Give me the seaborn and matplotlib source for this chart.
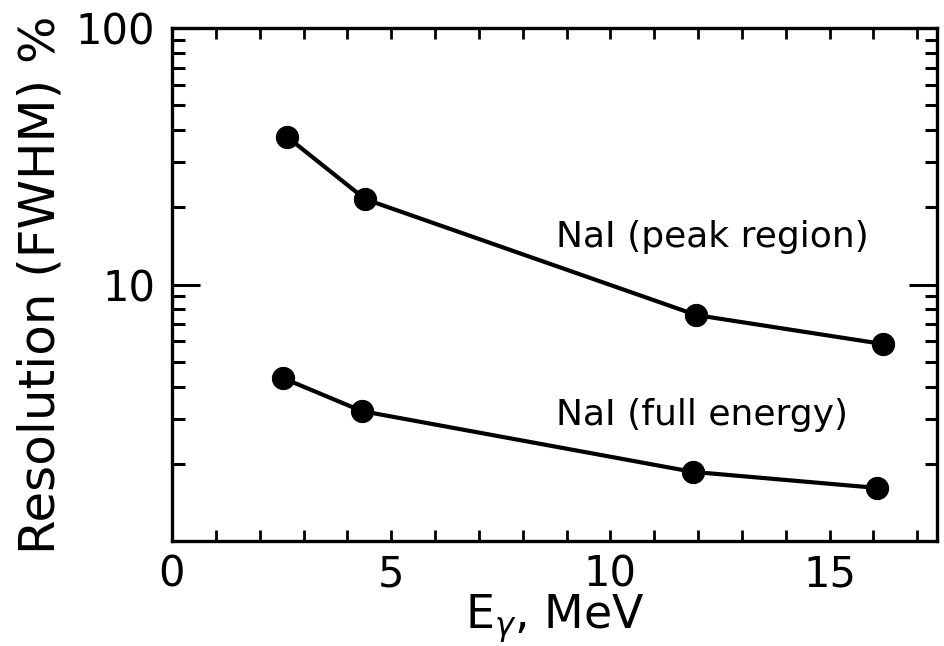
import numpy as np
import pandas as pd
import matplotlib
matplotlib.use("Agg")
import matplotlib.pyplot as plt
import matplotlib.ticker as mticker
import seaborn as sns

# Gamma energies (MeV) and NaI resolutions (FWHM, %)
energy_peak = [2.62, 4.41, 11.96, 16.22]
res_peak = [37.7, 21.5, 7.6, 5.86]
energy_full = [2.54, 4.33, 11.88, 16.09]
res_full = [4.31, 3.21, 1.86, 1.61]

series_names = ["NaI (peak region)", "NaI (full energy)"]
x_ticks = [0, 5, 10, 15]
x_tick_labels = ["0", "5", "10", "15"]
y_ticks = [10, 100]
y_tick_labels = ["10", "100"]

df = pd.concat([
    pd.DataFrame({"E": energy_peak, "R": res_peak, "series": series_names[0]}),
    pd.DataFrame({"E": energy_full, "R": res_full, "series": series_names[1]}),
])

sns.set_style("ticks")
plt.rcParams["font.family"] = ["DejaVu Sans"]
plt.rcParams["text.color"] = "black"
plt.rcParams["axes.labelcolor"] = "black"
plt.rcParams["xtick.color"] = "black"
plt.rcParams["ytick.color"] = "black"

fig = plt.figure(figsize=(9.45, 6.46), dpi=100)
ax = fig.add_axes([172 / 945, 1 - 541 / 646, (937 - 172) / 945, (541 - 28) / 646])

sns.lineplot(data=df, x="E", y="R", units="series", estimator=None,
             color="black", lw=3.0, marker="o", markersize=16,
             markeredgecolor="black", markerfacecolor="black",
             legend=False, ax=ax, sort=False)

ax.set_yscale("log")
ax.set_xlim(0, 17.45)
ax.set_ylim(1, 100)

ax.set_xticks(x_ticks)
ax.set_xticklabels(x_tick_labels)
ax.xaxis.set_minor_locator(mticker.MultipleLocator(1))
ax.set_yticks(y_ticks)
ax.set_yticklabels(y_tick_labels)
ax.yaxis.set_minor_locator(mticker.LogLocator(base=10, subs=np.arange(2, 10)))
ax.yaxis.set_minor_formatter(mticker.NullFormatter())

ax.tick_params(axis="x", which="both", direction="in", top=True, bottom=True,
               length=8, width=2, labelsize=30, pad=9)
ax.tick_params(axis="y", which="major", direction="in", left=True, right=True,
               length=20, width=2.2, labelsize=30, pad=12)
ax.tick_params(axis="y", which="minor", direction="in", left=True, right=True,
               length=9, width=2.2)

for sp in ax.spines.values():
    sp.set_linewidth(2.4)
    sp.set_color("black")

ax.set_xlabel(r"E$_{\gamma}$, MeV", fontsize=33, labelpad=-2)
ax.set_ylabel("Resolution (FWHM) %", fontsize=36, labelpad=8)

ax.text(8.75, 15.3, series_names[0], fontsize=26, ha="left", va="center")
ax.text(8.75, 3.1, series_names[1], fontsize=26, ha="left", va="center")

fig.savefig("out.png", dpi=100)
